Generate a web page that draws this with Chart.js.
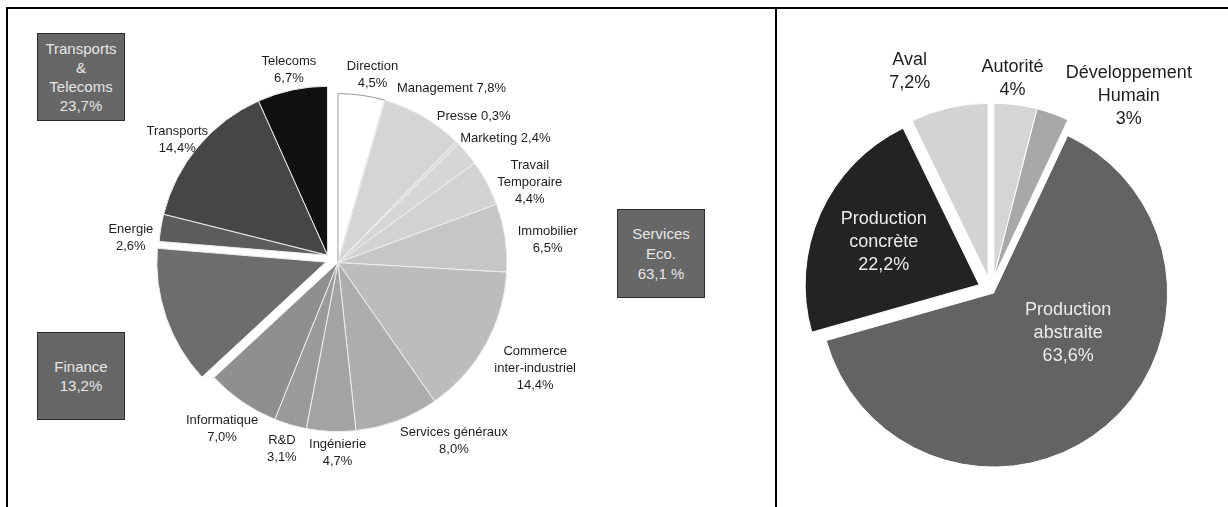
<!DOCTYPE html>
<html lang="fr">
<head>
<meta charset="utf-8">
<title>Répartition des emplois par fonction</title>
<script src="https://cdn.jsdelivr.net/npm/chart.js@4.4.1/dist/chart.umd.min.js"></script>
<style>
  html, body { margin: 0; padding: 0; background: #fff; }
  body {
    width: 1228px; height: 507px; position: relative; overflow: hidden;
    font-family: "Liberation Sans", Arial, sans-serif;
  }
  .frame {
    position: absolute; left: 6px; top: 7px; width: 1260px; height: 540px;
    border-left: 2px solid #000; border-top: 2px solid #000;
  }
  .divider { position: absolute; left: 775px; top: 7px; width: 2px; height: 540px; background: #000; }
  .box {
    position: absolute; box-sizing: border-box; width: 88px; height: 88px;
    background: #676767; border: 1.5px solid #2b2b2b; color: #e6e6e6;
    font-size: 15px; line-height: 19px; text-align: center; white-space: pre-line;
    display: flex; align-items: center; justify-content: center;
  }
  #leftChart { position: absolute; left: 0; top: 0; }
  #rightChart { position: absolute; left: 754px; top: 0; }
</style>
</head>
<body>
<div class="frame"></div>
<div class="divider"></div>
<canvas id="leftChart" width="664" height="520"></canvas>
<canvas id="rightChart" width="474" height="580"></canvas>
<div class="box" id="boxTT" style="left:37px; top:33px;"></div>
<div class="box" id="boxFin" style="left:37px; top:332px;"></div>
<div class="box" id="boxSvc" style="left:617px; top:209px; height:89px; line-height:20px;"></div>
<script>
// Left pie: jobs by function, grouped by sector
const leftCategories = [
  "Direction", "Management", "Presse", "Marketing", "Travail\nTemporaire",
  "Immobilier", "Commerce\ninter-industriel", "Services généraux", "Ingénierie",
  "R&D", "Informatique", "Finance", "Energie", "Transports", "Telecoms",
];
const leftValues = [4.5, 7.8, 0.3, 2.4, 4.4, 6.5, 14.4, 8.0, 4.7, 3.1, 7.0, 13.2, 2.6, 14.4, 6.7];
const leftGroups = [
  "svc", "svc", "svc", "svc", "svc", "svc", "svc", "svc", "svc", "svc", "svc",
  "fin", "tt", "tt", "tt",
];

// Right pie
const rightCategories = [
  "Autorité", "Développement\nHumain", "Production\nabstraite", "Production\nconcrète", "Aval",
];
const rightValues = [4, 3, 63.6, 22.2, 7.2];
const rightGroups = ["aut", "aut", "abs", "con", "aval"];

// Styles
const leftColors = [
  "#ffffff", "#d5d5d5", "#dadada", "#d6d6d6", "#d2d2d2", "#c6c6c6", "#bcbcbc",
  "#adadad", "#a3a3a3", "#9a9a9a", "#8f8f8f", "#6d6d6d", "#5c5c5c", "#464646", "#101010",
];
const leftBorders = leftColors.map((c, i) => (i === 0 ? "#9a9a9a" : "#eeeeee"));
const rightColors = ["#d5d5d5", "#a8a8a8", "#636363", "#232323", "#d3d3d3"];

const fmtOne = (v) => v.toFixed(1).replace(".", ",") + "%";
const fmtShort = (v) => String(v).replace(".", ",") + "%";

const leftLabelStyle = {
  font: '13px "Liberation Sans", Arial, sans-serif',
  lineHeight: 17,
  gap: 8,
  shiftY: 4,
  color: "#1e1e1e",
  inline: ["Management", "Presse", "Marketing"],
  skip: ["Finance"],
  nudge: {
    Telecoms: [4, 0],
    Direction: [6, 0],
    Management: [-3, -18],
    Presse: [-15, -19],
    Marketing: [-2, -8],
    "Travail\nTemporaire": [7, 11],
    Immobilier: [5, 2],
    "Commerce\ninter-industriel": [7, 3],
    "Services généraux": [35, -7],
    "Ingénierie": [8, -8],
    "R&D": [-2, -4],
    Informatique: [5, 3],
    Energie: [0, 10],
    Transports: [9, 5],
  },
  format: fmtOne,
};

const rightLabelStyle = {
  font: '18px "Liberation Sans", Arial, sans-serif',
  lineHeight: 23,
  gap: 8,
  shiftY: 0,
  color: "#1e1e1e",
  insideColor: "#ececec",
  inside: ["Production\nabstraite", "Production\nconcrète"],
  nudge: {
    Aval: [-33, -6],
    "Autorité": [-8, 5],
    "Développement\nHumain": [52, 22],
    "Production\nabstraite": [7, -40],
  },
  format: fmtShort,
};

// Moves every slice of a group by the same vector, along the group's middle angle
function makeGroupShift(groups, distance) {
  return {
    id: "groupShift",
    afterDatasetsUpdate(chart) {
      const arcs = chart.getDatasetMeta(0).data;
      const span = {};
      arcs.forEach((arc, i) => {
        const g = groups[i];
        if (!span[g]) span[g] = { start: arc.startAngle, end: arc.endAngle };
        else span[g].end = arc.endAngle;
      });
      arcs.forEach((arc, i) => {
        const g = groups[i];
        const mid = (span[g].start + span[g].end) / 2;
        const d = distance[g] || 0;
        arc.x += Math.cos(mid) * d;
        arc.y += Math.sin(mid) * d;
      });
    },
  };
}

// Category / value labels, outside or inside the slices
function makeSliceLabels(style) {
  return {
    id: "sliceLabels",
    afterDatasetsDraw(chart) {
      const { ctx } = chart;
      const arcs = chart.getDatasetMeta(0).data;
      const data = chart.data.datasets[0].data;
      ctx.save();
      ctx.font = style.font;
      ctx.textAlign = "center";
      ctx.textBaseline = "middle";
      arcs.forEach((arc, i) => {
        const name = chart.data.labels[i];
        if (style.skip && style.skip.includes(name)) return;
        const value = style.format(data[i]);
        const lines = style.inline && style.inline.includes(name)
          ? [name + " " + value]
          : [...name.split("\n"), value];
        const mid = (arc.startAngle + arc.endAngle) / 2;
        const cos = Math.cos(mid);
        const sin = Math.sin(mid);
        const w = Math.max(...lines.map((l) => ctx.measureText(l).width));
        const h = lines.length * style.lineHeight;
        const inside = style.inside && style.inside.includes(name);
        let x, y;
        if (inside) {
          const r = arc.outerRadius * 0.6;
          x = arc.x + cos * r;
          y = arc.y + sin * r;
        } else {
          const r = arc.outerRadius + style.gap;
          x = arc.x + cos * r + (cos * w) / 2;
          y = arc.y + sin * r + (sin * h) / 2 + style.shiftY;
        }
        const nudge = (style.nudge && style.nudge[name]) || [0, 0];
        x += nudge[0];
        y += nudge[1];
        ctx.fillStyle = inside ? style.insideColor : style.color;
        lines.forEach((line, k) => {
          ctx.fillText(line, x, y - h / 2 + style.lineHeight * (k + 0.5));
        });
      });
      ctx.restore();
    },
  };
}

const baseOptions = {
  responsive: false,
  animation: false,
  events: [],
  layout: { padding: 0 },
  plugins: {
    legend: { display: false },
    tooltip: { enabled: false },
  },
};

function createPie(canvasId, labels, values, colors, borders, radius, groups, distance, labelStyle) {
  const ctx = document.getElementById(canvasId).getContext("2d");
  return new Chart(ctx, {
    type: "pie",
    data: {
      labels,
      datasets: [
        {
          data: values,
          backgroundColor: colors,
          borderColor: borders,
          borderWidth: 1,
          hoverOffset: 0,
          radius,
        },
      ],
    },
    options: baseOptions,
    plugins: [makeGroupShift(groups, distance), makeSliceLabels(labelStyle)],
  });
}

createPie(
  "leftChart", leftCategories, leftValues, leftColors, leftBorders, 169,
  leftGroups, { svc: 6.5, fin: 6.5, tt: 6.5 }, leftLabelStyle
);
createPie(
  "rightChart", rightCategories, rightValues, rightColors, "#ffffff", 174,
  rightGroups, { aut: 13, abs: 4, con: 13, aval: 13 }, rightLabelStyle
);

// Sector boxes, totals taken from the left pie
function groupTotal(g) {
  return leftValues.filter((v, i) => leftGroups[i] === g).reduce((a, b) => a + b, 0);
}
document.getElementById("boxTT").textContent = "Transports\n&\nTelecoms\n" + fmtOne(groupTotal("tt"));
document.getElementById("boxFin").textContent = "Finance\n" + fmtOne(groupTotal("fin"));
document.getElementById("boxSvc").textContent = "Services\nEco.\n" + fmtOne(groupTotal("svc")).replace("%", " %");
</script>
</body>
</html>
